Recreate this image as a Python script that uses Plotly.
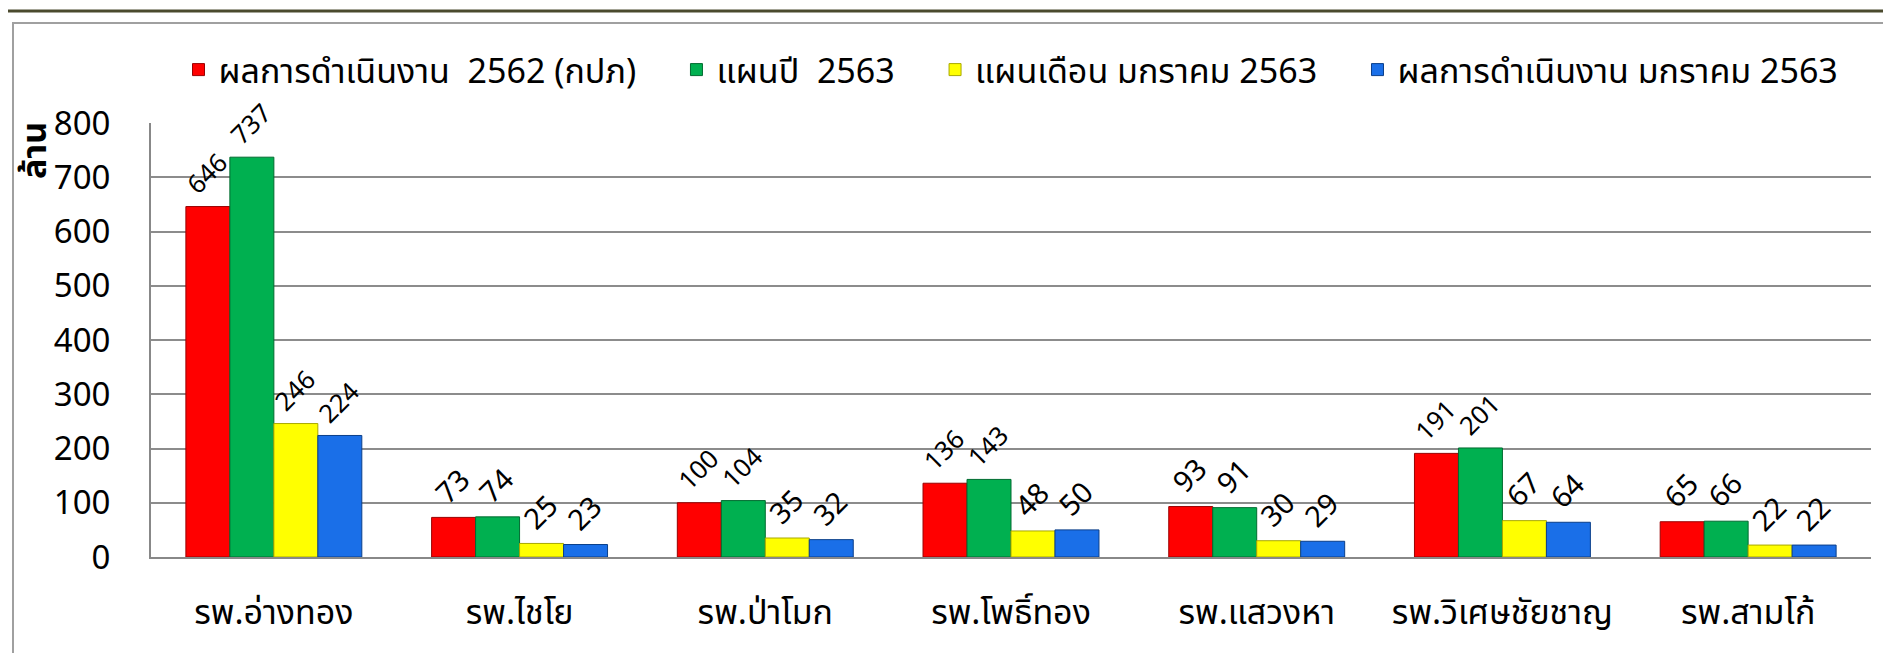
import plotly.graph_objects as go

categories = ["รพ.อ่างทอง", "รพ.ไชโย", "รพ.ป่าโมก", "รพ.โพธิ์ทอง", "รพ.แสวงหา", "รพ.วิเศษชัยชาญ", "รพ.สามโก้"]
series_names = ["ผลการดำเนินงาน  2562 (กปภ)", "แผนปี  2563", "แผนเดือน มกราคม 2563", "ผลการดำเนินงาน มกราคม 2563"]
result_2562 = [646, 73, 100, 136, 93, 191, 65]
plan_year_2563 = [737, 74, 104, 143, 91, 201, 66]
plan_jan_2563 = [246, 25, 35, 48, 30, 67, 22]
result_jan_2563 = [224, 23, 32, 50, 29, 64, 22]
y_ticks = [0, 100, 200, 300, 400, 500, 600, 700, 800]

series_values = [result_2562, plan_year_2563, plan_jan_2563, result_jan_2563]
colors = ["#FF0000", "#00B050", "#FFFF00", "#1A6FE8"]
edge = ["#9A0000", "#006B30", "#A8A800", "#0B3F8A"]

FONT = "Tahoma, 'Noto Sans Thai', 'Noto Sans', sans-serif"

W, H = 1891, 653
L, R, T, B = 143, 28, 115, 104
PW, PH = W - L - R, H - T - B


def px(x):
    return (x - L) / PW


def py(y):
    return (H - B - y) / PH


fig = go.Figure()
for i, (name, vals, c, e) in enumerate(zip(series_names, series_values, colors, edge)):
    pad = "\u00a0\u00a0\u00a0\u00a0" if i < len(series_names) - 1 else ""
    fig.add_trace(go.Bar(
        x=categories, y=vals, name=name + pad,
        marker=dict(color=c, line=dict(color=e, width=1)),
        text=vals, texttemplate="%{text}", textposition="outside",
        textangle=-45, textfont=dict(size=29, color="black", family=FONT),
        cliponaxis=False,
    ))

fig.update_layout(
    width=W, height=H,
    barmode="group", bargap=0.284, bargroupgap=0,
    paper_bgcolor="white", plot_bgcolor="white",
    margin=dict(l=L, r=R, t=T, b=B),
    font=dict(family=FONT, color="black"),
    showlegend=True,
    legend=dict(orientation="h", x=0.5, xanchor="center", y=py(62), yanchor="middle",
                font=dict(size=34), itemwidth=30, bgcolor="rgba(0,0,0,0)"),
    xaxis=dict(tickfont=dict(size=34), showline=True, linecolor="#888", linewidth=2,
               ticklabelstandoff=24, ticks=""),
    yaxis=dict(range=[0, 800], tickvals=y_ticks, tickfont=dict(size=33),
               showgrid=True, gridcolor="#8C8C8C", gridwidth=2,
               showline=True, linecolor="#888", linewidth=2,
               zeroline=False, ticks="", ticklabelstandoff=32),
    annotations=[
        dict(text="<b>ล้าน</b>", xref="paper", yref="paper", x=px(27), y=py(142),
             showarrow=False, textangle=-90, font=dict(size=34, family=FONT),
             xanchor="center", yanchor="middle"),
    ],
    shapes=[
        dict(type="line", xref="paper", yref="paper", x0=px(0), x1=px(W),
             y0=py(3), y1=py(3), line=dict(color="#4B4A2E", width=3)),
        dict(type="rect", xref="paper", yref="paper", x0=px(5), x1=px(W - 1),
             y0=py(H + 5), y1=py(15), line=dict(color="#A0A0A0", width=2)),
    ],
)

fig.write_html("out.html")
